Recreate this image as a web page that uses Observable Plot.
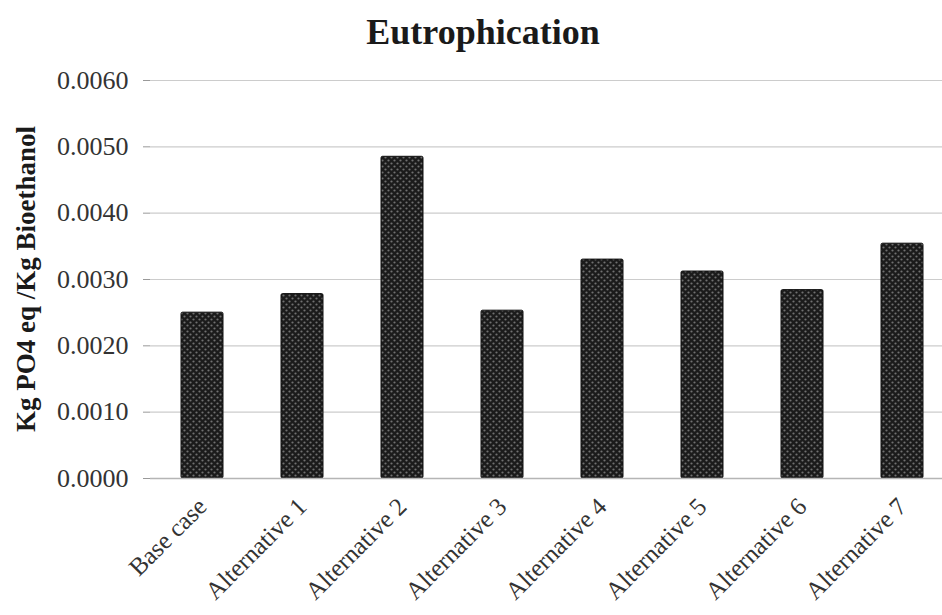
<!DOCTYPE html>
<html>
<head>
<meta charset="utf-8">
<script src="https://cdn.jsdelivr.net/npm/d3@7"></script>
<script src="https://cdn.jsdelivr.net/npm/@observablehq/plot@0.6"></script>
<style>
  html, body { margin: 0; padding: 0; background: #fff; }
  #wrap { position: relative; width: 942px; height: 615px; overflow: hidden; }
  #title {
    position: absolute; left: 0; top: 14px; width: 966px; text-align: center; z-index: 2;
    font-family: "Liberation Serif", "Times New Roman", serif; font-weight: bold;
    font-size: 36px; color: #1a1a1a; line-height: 1;
  }
  #chart { position: absolute; left: 0; top: 0; z-index: 1; }
</style>
</head>
<body>
<div id="wrap">
  <div id="title">Eutrophication</div>
  <div id="chart"></div>
</div>
<script>
// Eutrophication potential per scenario
const scenarios = ["Base case", "Alternative 1", "Alternative 2", "Alternative 3",
                   "Alternative 4", "Alternative 5", "Alternative 6", "Alternative 7"];
const eutrophication = [0.00250, 0.00278, 0.00485, 0.00253, 0.00330, 0.00312, 0.00284, 0.00354];
const yTicks = [0, 0.001, 0.002, 0.003, 0.004, 0.005, 0.006];
const yLabel = "Kg PO4 eq /Kg Bioethanol";

const rows = scenarios.map((s, i) => ({scenario: s, value: eutrophication[i]}));
const serif = "Liberation Serif, Times New Roman, serif";

const chart = Plot.plot({
  width: 942,
  height: 615,
  marginTop: 80,
  marginBottom: 137,
  marginLeft: 150,
  marginRight: 0,
  style: {fontFamily: serif, fontSize: "26px", color: "#333", background: "transparent", overflow: "visible"},
  x: {domain: scenarios, range: [151.5, 951.5], paddingInner: 0.58, paddingOuter: 0.29, label: null},
  y: {domain: [0, 0.006], label: null},
  marks: [
    Plot.gridY(yTicks, {stroke: "#cccccc", strokeOpacity: 1, strokeWidth: 1.2}),
    Plot.barY(rows, {x: "scenario", y: "value", fill: "url(#dotfill)", stroke: "#111", strokeWidth: 1, rx: 1.5}),
    Plot.ruleY([0], {stroke: "#b5b5b5", strokeWidth: 1.5}),
    Plot.ruleX([0], {x: () => 0, frameAnchor: "left", stroke: "#a8a8a8"}),
    Plot.axisY(yTicks, {
      tickFormat: d3.format(".4f"), tickSize: 7, tickPadding: 15, stroke: "#999",
      fontSize: 26, label: null
    }),
    Plot.axisX({tickSize: 0, tickPadding: 24, tickRotate: -45, fontSize: 25, label: null})
  ]
});

const svg = d3.select(chart);

// dotted fill pattern for the bars
const defs = svg.insert("defs", ":first-child");
const pat = defs.append("pattern")
  .attr("id", "dotfill").attr("patternUnits", "userSpaceOnUse")
  .attr("width", 6).attr("height", 6);
pat.append("rect").attr("width", 6).attr("height", 6).attr("fill", "#1b1b1b");
pat.append("circle").attr("cx", 1.5).attr("cy", 1.5).attr("r", 1.1).attr("fill", "#707070");
pat.append("circle").attr("cx", 4.5).attr("cy", 4.5).attr("r", 1.1).attr("fill", "#707070");

// vertical y-axis title, centred on the plot area
const yMid = (80 + (615 - 137)) / 2;
svg.append("text")
  .attr("transform", `translate(26,${yMid}) rotate(-90)`)
  .attr("text-anchor", "middle")
  .attr("dy", "0.35em")
  .attr("font-family", serif)
  .attr("font-weight", "bold")
  .attr("font-size", 27)
  .attr("fill", "#1a1a1a")
  .text(yLabel);

document.getElementById("chart").append(chart);
</script>
</body>
</html>
